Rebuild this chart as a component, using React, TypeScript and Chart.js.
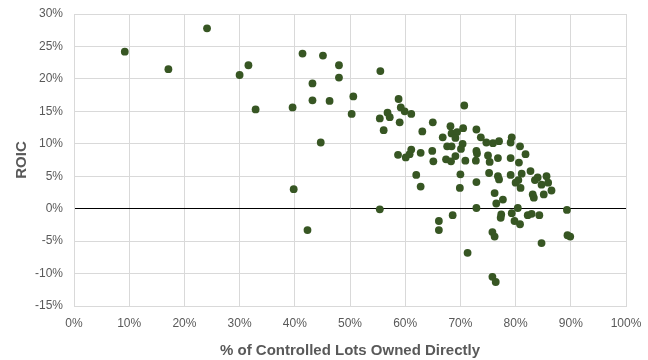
import React, { useEffect, useRef } from "react";
import { Chart, registerables } from "chart.js";

Chart.register(...registerables);

// % of controlled lots owned directly (x) and ROIC (y), in percent
const ownedDirectly: number[] = [
  9.2, 17.1, 24.1, 30.0, 31.6, 32.9, 39.6, 41.4, 43.2, 43.2,
  44.7, 45.1, 46.3, 48.0, 48.0, 50.6, 50.3, 39.8, 42.3, 55.4,
  55.5, 58.8, 59.2, 59.9, 56.8, 57.2, 61.1, 55.4, 59.0, 56.1,
  65.0, 70.7, 63.1, 68.2, 70.5, 66.8, 68.4, 69.4, 69.1, 72.9,
  73.7, 74.7, 75.9, 77.0, 67.6, 68.4, 70.4, 70.1, 61.1, 60.8,
  58.7, 60.1, 62.8, 64.9, 72.9, 73.0, 69.1, 67.4, 68.3, 70.9,
  72.8, 65.1, 75.0, 75.3, 76.8, 79.3, 79.1, 80.8, 81.8, 79.1,
  80.6, 82.7, 62.0, 62.8, 70.0, 69.9, 72.9, 75.2, 76.8, 77.0,
  76.2, 76.5, 72.9, 68.6, 66.1, 66.1, 75.8, 76.2, 77.4, 77.3,
  79.1, 81.1, 80.5, 80.0, 80.9, 83.5, 84.0, 85.6, 84.7, 85.9,
  86.5, 83.1, 83.3, 85.1, 77.7, 80.4, 79.3, 79.8, 80.8, 82.2,
  82.9, 84.3, 89.3, 89.4, 89.9, 84.7, 71.3, 75.8, 76.4,
];

const roic: number[] = [
  24.2, 21.5, 27.8, 20.6, 22.1, 15.3, 15.6, 23.9, 19.3, 16.7,
  10.2, 23.6, 16.6, 22.1, 20.2, 17.3, 14.6, 3.0, -3.3, -0.1,
  21.2, 16.9, 15.6, 15.0, 14.8, 14.1, 14.6, 13.9, 13.3, 12.1,
  13.3, 15.9, 11.9, 12.7, 12.4, 11.0, 11.6, 11.8, 10.9, 12.2,
  11.0, 10.2, 10.1, 10.4, 9.6, 9.6, 10.0, 9.2, 9.1, 8.4,
  8.3, 7.9, 8.6, 8.9, 8.9, 8.5, 8.1, 7.6, 7.3, 7.4,
  7.4, 7.3, 8.2, 7.2, 7.8, 11.0, 10.2, 9.6, 8.4, 7.8,
  7.1, 5.8, 5.2, 3.4, 5.3, 3.2, 4.1, 5.5, 5.0, 4.5,
  2.4, 0.8, 0.1, -1.0, -1.9, -3.3, -3.6, -4.3, -0.9, -1.4,
  5.2, 5.4, 4.4, 4.0, 3.2, 4.4, 4.8, 5.0, 3.7, 4.0,
  2.8, 2.2, 1.7, 2.2, 1.4, 0.1, -0.7, -1.9, -2.4, -1.0,
  -0.8, -1.0, -0.2, -4.1, -4.3, -5.3, -6.8, -10.5, -11.3,
];

const xTicks = { min: 0, max: 100, step: 10 };
const yTicks = { min: -15, max: 30, step: 5 };
const xTitle = "% of Controlled Lots Owned Directly";
const yTitle = "ROIC";

export default function App() {
  const ref = useRef<HTMLCanvasElement | null>(null);

  useEffect(() => {
    if (!ref.current) return;
    const points = ownedDirectly.map((x, i) => ({ x, y: roic[i] }));
    const tickFont = { family: "'Liberation Sans', Arial, sans-serif", size: 12 };
    const titleFont = { family: "'Liberation Sans', Arial, sans-serif", size: 15, weight: "bold" as const };
    const chart = new Chart(ref.current, {
      type: "scatter",
      data: {
        datasets: [
          {
            data: points,
            backgroundColor: "#375623",
            borderColor: "#375623",
            borderWidth: 0,
            pointRadius: 3.9,
            pointHoverRadius: 3.9,
          },
        ],
      },
      options: {
        animation: false,
        responsive: true,
        maintainAspectRatio: false,
        layout: { autoPadding: false, padding: { left: 0, right: 22, top: 14, bottom: 0 } },
        plugins: { legend: { display: false }, tooltip: { enabled: false } },
        scales: {
          x: {
            type: "linear",
            min: xTicks.min,
            max: xTicks.max,
            afterFit: (s: any) => {
              s.height = 54;
              s.paddingLeft = 0;
              s.paddingRight = 0;
            },
            ticks: {
              stepSize: xTicks.step,
              color: "#595959",
              font: tickFont,
              padding: 10,
              callback: (v: any) => v + "%",
            },
            grid: { color: "#d9d9d9", drawTicks: false },
            border: { color: "#d9d9d9" },
            title: {
              display: true,
              text: xTitle,
              color: "#595959",
              font: titleFont,
              padding: { top: 4, bottom: 0 },
            },
          },
          y: {
            type: "linear",
            min: yTicks.min,
            max: yTicks.max,
            afterFit: (s: any) => {
              s.width = 74;
              s.paddingTop = 0;
              s.paddingBottom = 0;
            },
            ticks: {
              stepSize: yTicks.step,
              color: "#595959",
              font: tickFont,
              padding: 11,
              callback: (v: any) => v + "%",
            },
            grid: {
              color: (c: any) => (c.tick && c.tick.value === 0 ? "#000000" : "#d9d9d9"),
              drawTicks: false,
            },
            border: { color: "#d9d9d9" },
            title: {
              display: true,
              text: yTitle,
              color: "#595959",
              font: titleFont,
              padding: { top: 13, bottom: 0 },
            },
          },
        },
      },
    });
    return () => chart.destroy();
  }, []);

  return (
    <div style={{ position: "fixed", left: 0, top: 0, width: 648, height: 360, background: "#fff" }}>
      <canvas ref={ref} />
    </div>
  );
}
